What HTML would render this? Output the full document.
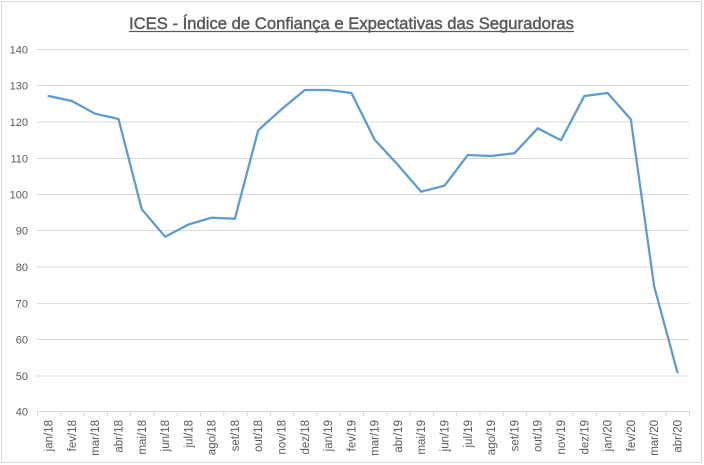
<!DOCTYPE html>
<html>
<head>
<meta charset="utf-8">
<style>
html,body{margin:0;padding:0;background:#fff;}
svg{display:block;}
text{font-family:"Liberation Sans",Arial,sans-serif;fill:#595959;}
</style>
</head>
<body>
<svg width="704" height="465" viewBox="0 0 704 465" xmlns="http://www.w3.org/2000/svg">
<rect x="0" y="0" width="704" height="465" fill="#fff"/>
<rect x="1.5" y="1.5" width="700" height="461" fill="none" stroke="#d9d9d9" stroke-width="1"/>

<!-- title -->
<text x="351.5" y="29" font-size="17" text-anchor="middle" textLength="445" lengthAdjust="spacingAndGlyphs" style="fill:#595959;stroke:#595959;stroke-width:0.45">ICES - Índice de Confiança e Expectativas das Seguradoras</text>
<line x1="129" y1="31.5" x2="574" y2="31.5" stroke="#595959" stroke-width="1.2"/>

<!-- gridlines -->
<g stroke="#d9d9d9" stroke-width="1">
<line x1="37" y1="49.5" x2="689" y2="49.5"/>
<line x1="37" y1="85.5" x2="689" y2="85.5"/>
<line x1="37" y1="122" x2="689" y2="122"/>
<line x1="37" y1="158.5" x2="689" y2="158.5"/>
<line x1="37" y1="194.5" x2="689" y2="194.5"/>
<line x1="37" y1="230.5" x2="689" y2="230.5"/>
<line x1="37" y1="267" x2="689" y2="267"/>
<line x1="37" y1="303.5" x2="689" y2="303.5"/>
<line x1="37" y1="339.5" x2="689" y2="339.5"/>
<line x1="37" y1="376" x2="689" y2="376"/>
<line x1="37" y1="411.5" x2="689" y2="411.5"/>
</g>

<!-- x ticks -->
<g stroke="#d9d9d9" stroke-width="1">
<line x1="37.5" y1="411" x2="37.5" y2="416"/>
<line x1="60.8" y1="411" x2="60.8" y2="416"/>
<line x1="84.1" y1="411" x2="84.1" y2="416"/>
<line x1="107.4" y1="411" x2="107.4" y2="416"/>
<line x1="130.6" y1="411" x2="130.6" y2="416"/>
<line x1="153.9" y1="411" x2="153.9" y2="416"/>
<line x1="177.2" y1="411" x2="177.2" y2="416"/>
<line x1="200.5" y1="411" x2="200.5" y2="416"/>
<line x1="223.8" y1="411" x2="223.8" y2="416"/>
<line x1="247.1" y1="411" x2="247.1" y2="416"/>
<line x1="270.4" y1="411" x2="270.4" y2="416"/>
<line x1="293.6" y1="411" x2="293.6" y2="416"/>
<line x1="316.9" y1="411" x2="316.9" y2="416"/>
<line x1="340.2" y1="411" x2="340.2" y2="416"/>
<line x1="363.5" y1="411" x2="363.5" y2="416"/>
<line x1="386.8" y1="411" x2="386.8" y2="416"/>
<line x1="410.1" y1="411" x2="410.1" y2="416"/>
<line x1="433.4" y1="411" x2="433.4" y2="416"/>
<line x1="456.6" y1="411" x2="456.6" y2="416"/>
<line x1="479.9" y1="411" x2="479.9" y2="416"/>
<line x1="503.2" y1="411" x2="503.2" y2="416"/>
<line x1="526.5" y1="411" x2="526.5" y2="416"/>
<line x1="549.8" y1="411" x2="549.8" y2="416"/>
<line x1="573.1" y1="411" x2="573.1" y2="416"/>
<line x1="596.4" y1="411" x2="596.4" y2="416"/>
<line x1="619.6" y1="411" x2="619.6" y2="416"/>
<line x1="642.9" y1="411" x2="642.9" y2="416"/>
<line x1="666.2" y1="411" x2="666.2" y2="416"/>
<line x1="689.5" y1="411" x2="689.5" y2="416"/>
</g>

<!-- y labels -->
<g font-size="11" text-anchor="end">
<text x="28" y="53.5">140</text>
<text x="28" y="89.5">130</text>
<text x="28" y="126">120</text>
<text x="28" y="162.5">110</text>
<text x="28" y="198.5">100</text>
<text x="28" y="234.5">90</text>
<text x="28" y="271">80</text>
<text x="28" y="307.5">70</text>
<text x="28" y="343.5">60</text>
<text x="28" y="380">50</text>
<text x="28" y="415.5">40</text>
</g>

<!-- x labels -->
<g font-size="11.5" text-anchor="end">
<text transform="translate(52.6,420) rotate(-90)">jan/18</text>
<text transform="translate(75.9,420) rotate(-90)">fev/18</text>
<text transform="translate(99.2,420) rotate(-90)">mar/18</text>
<text transform="translate(122.5,420) rotate(-90)">abr/18</text>
<text transform="translate(145.8,420) rotate(-90)">mai/18</text>
<text transform="translate(169.1,420) rotate(-90)">jun/18</text>
<text transform="translate(192.4,420) rotate(-90)">jul/18</text>
<text transform="translate(215.6,420) rotate(-90)">ago/18</text>
<text transform="translate(238.9,420) rotate(-90)">set/18</text>
<text transform="translate(262.2,420) rotate(-90)">out/18</text>
<text transform="translate(285.5,420) rotate(-90)">nov/18</text>
<text transform="translate(308.8,420) rotate(-90)">dez/18</text>
<text transform="translate(332.1,420) rotate(-90)">jan/19</text>
<text transform="translate(355.4,420) rotate(-90)">fev/19</text>
<text transform="translate(378.7,420) rotate(-90)">mar/19</text>
<text transform="translate(402.0,420) rotate(-90)">abr/19</text>
<text transform="translate(425.2,420) rotate(-90)">mai/19</text>
<text transform="translate(448.5,420) rotate(-90)">jun/19</text>
<text transform="translate(471.8,420) rotate(-90)">jul/19</text>
<text transform="translate(495.1,420) rotate(-90)">ago/19</text>
<text transform="translate(518.4,420) rotate(-90)">set/19</text>
<text transform="translate(541.7,420) rotate(-90)">out/19</text>
<text transform="translate(565.0,420) rotate(-90)">nov/19</text>
<text transform="translate(588.3,420) rotate(-90)">dez/19</text>
<text transform="translate(611.6,420) rotate(-90)">jan/20</text>
<text transform="translate(634.8,420) rotate(-90)">fev/20</text>
<text transform="translate(658.1,420) rotate(-90)">mar/20</text>
<text transform="translate(681.4,420) rotate(-90)">abr/20</text>
</g>

<!-- series -->
<polyline fill="none" stroke="#5b9bd5" stroke-width="2.25" stroke-linejoin="round" stroke-linecap="round"
points="48.6,96 71.9,101 95.2,113.7 118.5,119 141.8,209.3 165.1,236.7 188.4,224.5 211.6,217.7 234.9,218.7 258.2,130.3 281.5,109.3 304.8,90 328.1,90 351.4,93 374.7,139.7 398.0,165 421.2,191.7 444.5,185.7 467.8,155 491.1,156 514.4,153.3 537.7,128.3 561.0,140.3 584.3,96 607.6,93 630.8,119.3 654.1,286 677.4,372.3"/>
</svg>
</body>
</html>
